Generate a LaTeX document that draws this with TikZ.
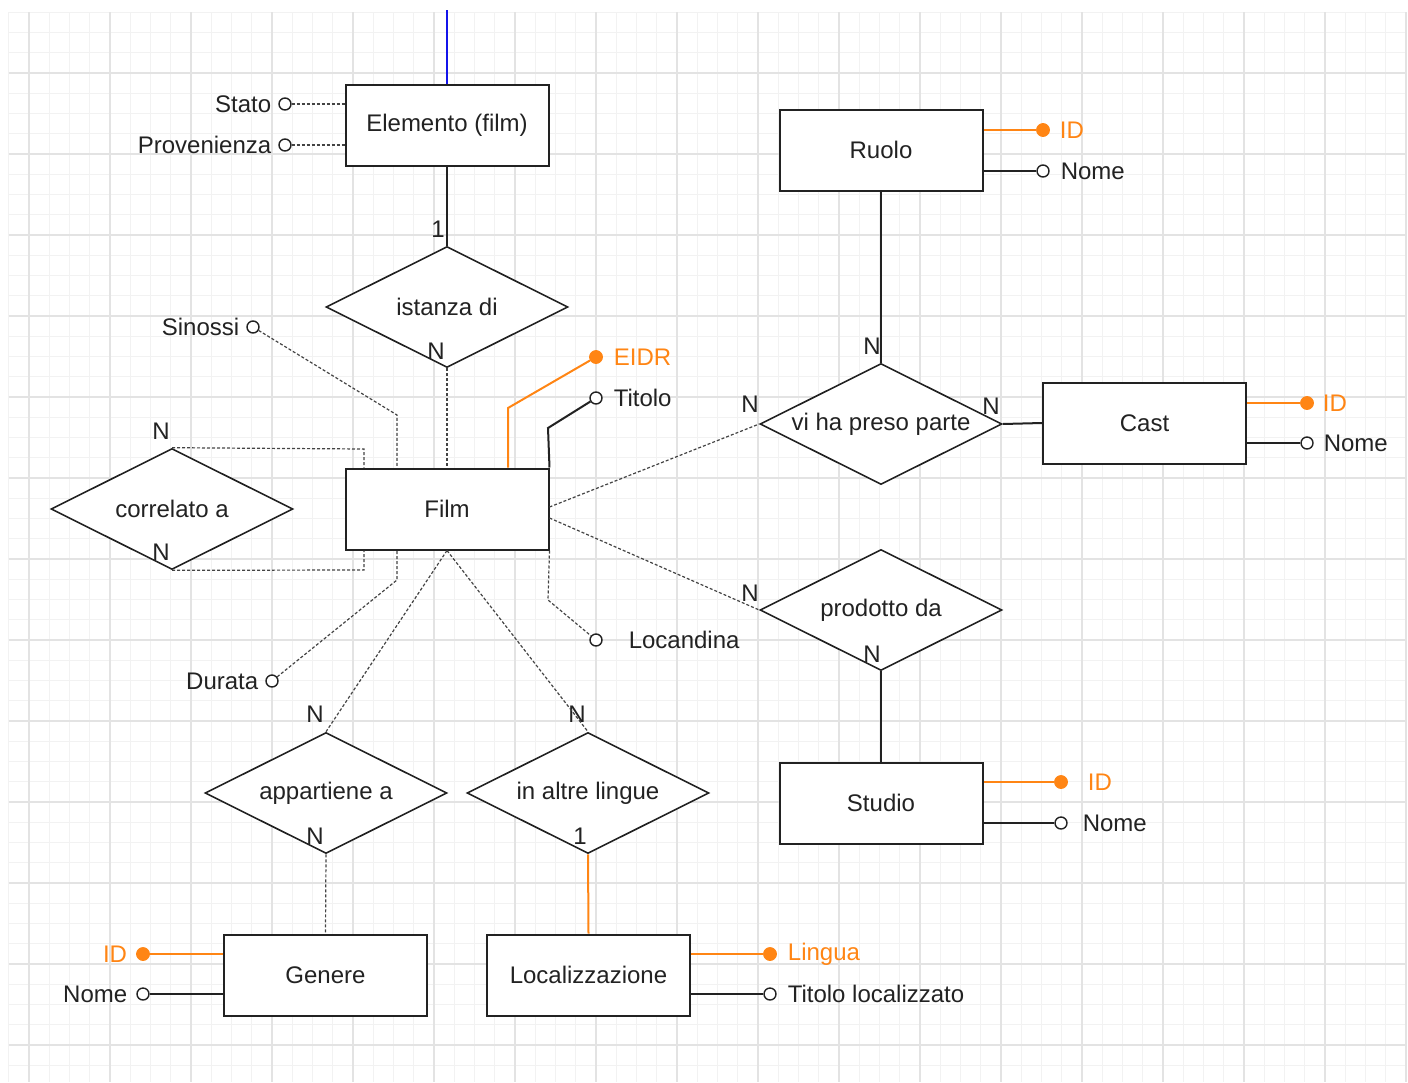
\documentclass[tikz,border=0pt]{standalone}
\usepackage{fontspec}
\setmainfont{Liberation Sans}
\usetikzlibrary{shapes.geometric}
\definecolor{ink}{RGB}{34,34,34}
\definecolor{ero}{RGB}{255,133,20}
\definecolor{feedblue}{RGB}{20,20,235}
\begin{document}
\begin{tikzpicture}[x=0.5pt,y=-0.5pt,font=\fontsize{12}{14}\selectfont,text=ink,
    minorgrid/.style={draw=black!5,line width=0.5pt},
    majorgrid/.style={draw=black!11,line width=0.6pt},
    entity/.style={draw=ink,line width=1pt,fill=white,minimum width=101.5pt,minimum height=40.5pt,inner sep=0pt},
    relation/.style={draw=ink,line width=0.8pt,fill=white,diamond,aspect=2,minimum width=121pt,minimum height=60.5pt,inner sep=0pt},
    attr/.style={circle,draw=ink,fill=white,line width=0.7pt,minimum size=6pt,inner sep=0pt},
    keyattr/.style={circle,draw=ero,fill=ero,minimum size=6.5pt,inner sep=0pt},
    card/.style={inner sep=0pt},
    weak/.style={draw=ink!85,line width=0.6pt,dash pattern=on 1.5pt off 1pt},
    strong/.style={draw=ink,line width=1pt},
    keyline/.style={draw=ero,line width=1pt}]
  \useasboundingbox (0,0) rectangle (1408,1082);
  \foreach \i in {0,...,69} \draw[minorgrid] (8.75+20.25*\i,12.25) -- (8.75+20.25*\i,1082);
  \foreach \j in {0,...,52} \draw[minorgrid] (8.75,12.25+20.25*\j) -- (1406,12.25+20.25*\j);
  \foreach \i in {0,...,17} \draw[majorgrid] (29+81*\i,12.25) -- (29+81*\i,1082);
  \foreach \j in {0,...,12} \draw[majorgrid] (8.75,73+81*\j) -- (1406,73+81*\j);

  \coordinate (feed) at (447,10);
  \node[entity] (elemento) at (447,125) {Elemento (film)};
  \node[entity] (film) at (447,509) {Film};
  \node[entity] (ruolo) at (881,150) {Ruolo};
  \node[entity] (cast) at (1144.5,423) {Cast};
  \node[entity] (studio) at (881,803) {Studio};
  \node[entity] (genere) at (325.5,975) {Genere};
  \node[entity] (localizz) at (588.5,975) {Localizzazione};

  \node[relation,label=center:{istanza di}] (istanza) at (447,307) {};
  \node[relation,label=center:{correlato a}] (correlato) at (172,509) {};
  \node[relation,label=center:{vi ha preso parte}] (partecipa) at (881,424) {};
  \node[relation,label=center:{prodotto da}] (prodotto) at (881,610) {};
  \node[relation,label=center:{appartiene a}] (appartiene) at (326,793) {};
  \node[relation,label=center:{in altre lingue}] (lingue) at (588,793) {};

  \node[attr,label=left:Stato] (stato) at (285,104) {};
  \node[attr,label=left:Provenienza] (provenienza) at (285,145) {};
  \node[attr,label=left:Sinossi] (sinossi) at (253,327) {};
  \node[keyattr,label={[text=ero,label distance=2pt]right:EIDR}] (eidr) at (596,357) {};
  \node[attr,label={[label distance=2pt]right:Titolo}] (titolo) at (596,398) {};
  \node[attr,label=left:Durata] (durata) at (272,681) {};
  \node[attr,label={[label distance=9.5pt]right:Locandina}] (locandina) at (596,640) {};
  \node[keyattr,label={[text=ero,label distance=1.5pt]right:ID}] (ruoloid) at (1043,130) {};
  \node[attr,label={[label distance=2pt]right:Nome}] (ruolonome) at (1043,171) {};
  \node[keyattr,label={[text=ero,label distance=1pt]right:ID}] (castid) at (1307,403) {};
  \node[attr,label={[label distance=1.5pt]right:Nome}] (castnome) at (1307,443) {};
  \node[keyattr,label={[text=ero,label distance=6.5pt]right:ID}] (studioid) at (1061,782) {};
  \node[attr,label={[label distance=4pt]right:Nome}] (studionome) at (1061,823) {};
  \node[keyattr,label={[text=ero,label distance=1pt]left:ID}] (genereid) at (143,954) {};
  \node[attr,label={[label distance=1pt]left:Nome}] (generenome) at (143,994) {};
  \node[keyattr,label={[text=ero,label distance=2pt]right:Lingua}] (lingua) at (770,954) {};
  \node[attr,label={[label distance=2pt]right:Titolo localizzato}] (titololoc) at (770,994) {};

  \node[card] (c1) at (438,229) {1};
  \node[card] (c2) at (436,351) {N};
  \node[card] (c3) at (161,431) {N};
  \node[card] (c4) at (161,552) {N};
  \node[card] (c5) at (872,346) {N};
  \node[card] (c6) at (750,404) {N};
  \node[card] (c7) at (991,406) {N};
  \node[card] (c8) at (750,593) {N};
  \node[card] (c9) at (872,654) {N};
  \node[card] (c10) at (315,714) {N};
  \node[card] (c11) at (315,836) {N};
  \node[card] (c12) at (577,714) {N};
  \node[card] (c13) at (580,836) {1};

  \draw[feedblue,line width=0.8pt] (feed) -- (elemento.north);
  \draw[weak] (stato) -- (stato -| elemento.west);
  \draw[weak] (provenienza) -- (provenienza -| elemento.west);
  \draw[strong] (elemento.south) -- (istanza.north);
  \draw[weak] (istanza.south) -- (film.north);
  \draw[weak] (sinossi) -- (397,415) -- ([xshift=-25pt]film.north);
  \draw[keyline] ([xshift=30.5pt]film.north) -- (508,408) -- (eidr);
  \draw[strong] (film.north east) -- (548,428) -- (titolo);
  \draw[weak] (correlato.north) -- (364,449) -- ([xshift=-41.5pt]film.north);
  \draw[weak] (correlato.south) -- (364,570) -- ([xshift=-41.5pt]film.south);
  \draw[weak] (durata) -- (397,580) -- ([xshift=-25pt]film.south);
  \draw[weak] (film.south east) -- (548,600) -- (locandina);
  \draw[weak] (film.south) -- (appartiene.north);
  \draw[weak] (film.south) -- (lingue.north);
  \draw[weak] ([yshift=1pt]film.east) -- (partecipa.west);
  \draw[weak] ([yshift=-4.5pt]film.east) -- (prodotto.west);
  \draw[strong] (ruolo.south) -- (partecipa.north);
  \draw[strong] (partecipa.east) -- (cast.west);
  \draw[strong] (prodotto.south) -- (studio.north);
  \draw[weak] (appartiene.south) -- (genere.north);
  \draw[keyline] (lingue.south) -- (localizz.north);
  \draw[keyline] (ruoloid) -- (ruoloid -| ruolo.east);
  \draw[strong] (ruolonome) -- (ruolonome -| ruolo.east);
  \draw[keyline] (castid) -- (castid -| cast.east);
  \draw[strong] (castnome) -- (castnome -| cast.east);
  \draw[keyline] (studioid) -- (studioid -| studio.east);
  \draw[strong] (studionome) -- (studionome -| studio.east);
  \draw[keyline] (genereid) -- (genereid -| genere.west);
  \draw[strong] (generenome) -- (generenome -| genere.west);
  \draw[keyline] (lingua) -- (lingua -| localizz.east);
  \draw[strong] (titololoc) -- (titololoc -| localizz.east);
\end{tikzpicture}
\end{document}
